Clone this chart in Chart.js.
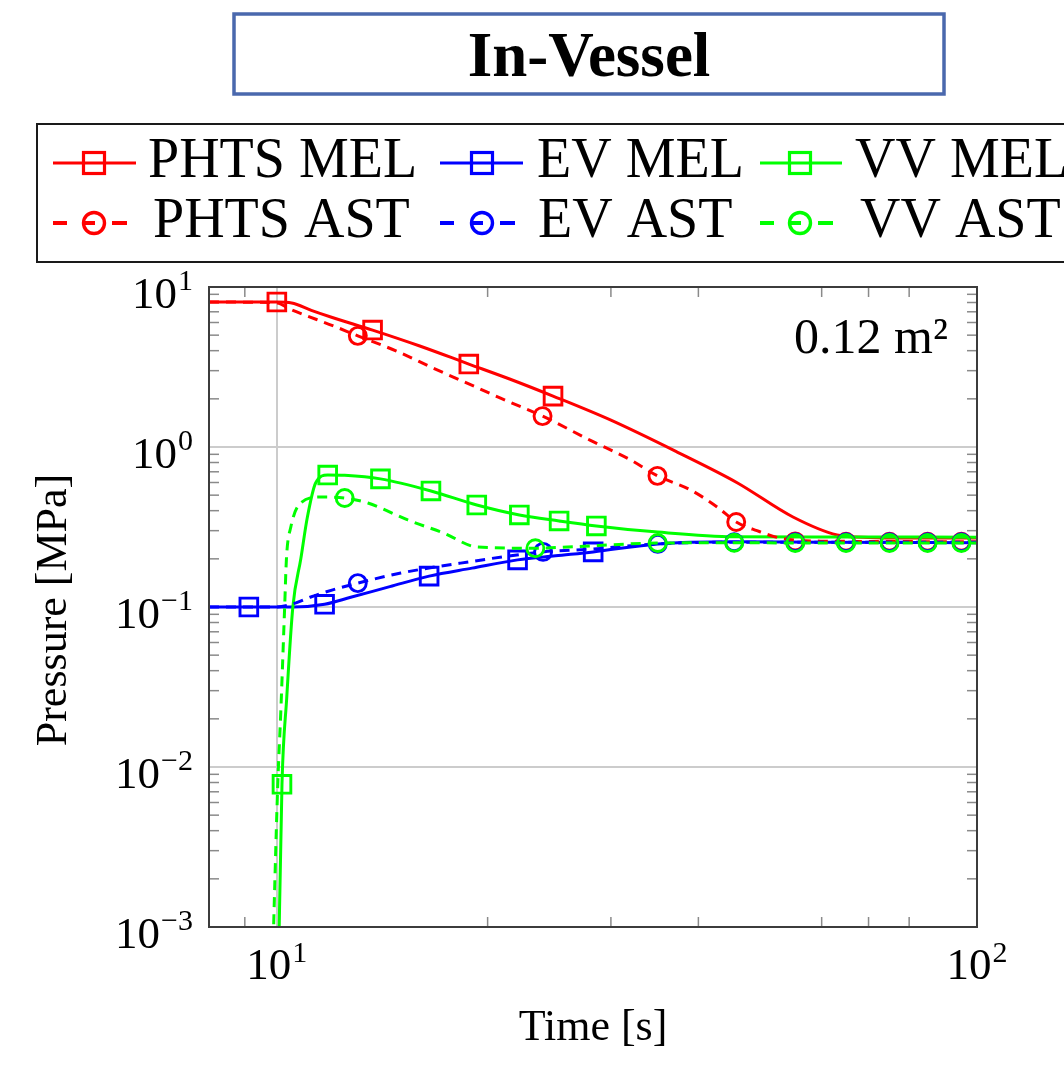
<!DOCTYPE html>
<html>
<head>
<meta charset="utf-8">
<script src="https://cdn.jsdelivr.net/npm/chart.js@4.4.0/dist/chart.umd.min.js"></script>
<style>
html,body{margin:0;padding:0;background:#fff;}
#wrap{width:1064px;height:1065px;position:relative;}
</style>
</head>
<body>
<div id="wrap"><canvas id="c"></canvas></div>
<script>
// ---------- texts ----------
const chartTitle = 'In-Vessel';
const xAxisTitle = 'Time [s]';
const yAxisTitle = 'Pressure [MPa]';
const annotationText = '0.12 m²';
const seriesNames = ['PHTS MEL', 'EV MEL', 'VV MEL', 'PHTS AST', 'EV AST', 'VV AST'];

// ---------- axes ----------
const xMin = 8, xMax = 100, yMin = 1e-3, yMax = 10;
const xMajorTicks = [10, 100];
const xMinorTicks = [9, 20, 30, 40, 60, 70, 80];
const xGridValues = [10];
const yMajorTicks = [1e-3, 1e-2, 1e-1, 1, 10];
const yMinorTicks = [2e-3,3e-3,4e-3,5e-3,6e-3,7e-3,8e-3,9e-3,
                     2e-2,3e-2,4e-2,5e-2,6e-2,7e-2,8e-2,9e-2,
                     0.2,0.3,0.4,0.5,0.6,0.7,0.8,0.9,
                     2,3,4,5,6,7,8,9];
const xTickLabels = [['10','1'], ['10','2']];
const yTickLabels = [['10','\u22123'], ['10','\u22122'], ['10','\u22121'], ['10','0'], ['10','1']];

// ---------- series: PHTS MEL ----------
const phtsMelTime = [8, 9, 10, 10.5, 11.2, 12, 13.7, 16, 18.8, 21.5, 24.8, 30, 37.3, 45.5, 54.6, 63.1, 70, 80, 100];
const phtsMelP    = [8.06, 8.06, 8.06, 7.95, 7.15, 6.45, 5.38, 4.28, 3.30, 2.66, 2.08, 1.47, 0.93, 0.596, 0.365, 0.282, 0.272, 0.27, 0.27];
const phtsMelMarkTime = [10, 13.7, 18.8, 24.8];
const phtsMelMarkP    = [8.06, 5.38, 3.30, 2.08];

// ---------- series: EV MEL ----------
const evMelTime = [8, 9.12, 10.57, 11.7, 12.75, 14.5, 16.5, 19, 22.07, 25, 28.3, 35, 45, 60, 100];
const evMelP    = [0.1, 0.1, 0.1, 0.104, 0.115, 0.134, 0.156, 0.175, 0.197, 0.209, 0.221, 0.248, 0.256, 0.254, 0.252];
const evMelMarkTime = [9.12, 11.7, 16.5, 22.07, 28.3];
const evMelMarkP    = [0.1, 0.104, 0.156, 0.197, 0.221];

// ---------- series: VV MEL ----------
const vvMelTime = [10.05, 10.17, 10.33, 10.54, 10.82, 11.05, 11.36, 11.82, 12.5, 14.06, 16.6, 19.3, 22.2, 25.3, 28.6, 35, 45, 60, 100];
const vvMelP    = [0.0005, 0.0078, 0.027, 0.1, 0.2, 0.36, 0.596, 0.668, 0.665, 0.632, 0.531, 0.434, 0.376, 0.345, 0.321, 0.294, 0.275, 0.274, 0.273];
const vvMelMarkTime = [10.17, 11.82, 14.06, 16.6, 19.3, 22.2, 25.3, 28.6];
const vvMelMarkP    = [0.0078, 0.668, 0.632, 0.531, 0.434, 0.376, 0.345, 0.321];

// ---------- series: PHTS AST ----------
const phtsAstTime = [8, 9, 10, 10.5, 12.06, 13.05, 14.88, 16.75, 18.73, 20.87, 23.96, 28.05, 32, 34.96, 38.96, 42.6, 45.3, 48.5, 52.3, 60, 100];
const phtsAstP    = [8.06, 8.04, 7.95, 7.2, 5.7, 4.95, 3.95, 3.1, 2.5, 2.02, 1.56, 1.10, 0.83, 0.66, 0.54, 0.42, 0.34, 0.30, 0.27, 0.258, 0.256];
const phtsAstMarkTime = [13.05, 23.96, 34.96, 45.3, 55, 65, 75, 85, 95];
const phtsAstMarkP    = [4.95, 1.56, 0.66, 0.34, 0.257, 0.256, 0.256, 0.256, 0.256];

// ---------- series: EV AST ----------
const evAstTime = [8, 10, 10.57, 11.18, 12.02, 13.05, 15.03, 18.3, 24, 28.05, 35, 45, 60, 100];
const evAstP    = [0.1, 0.1, 0.105, 0.1155, 0.128, 0.141, 0.163, 0.188, 0.221, 0.230, 0.248, 0.254, 0.254, 0.254];
const evAstMarkTime = [13.05, 24, 35, 45, 55, 65, 75, 85, 95];
const evAstMarkP    = [0.141, 0.221, 0.248, 0.254, 0.254, 0.254, 0.254, 0.254, 0.254];

// ---------- series: VV AST ----------
const vvAstTime = [9.85, 10.03, 10.13, 10.26, 10.32, 10.47, 10.82, 11.56, 12.5, 13.49, 15.38, 17.3, 19.35, 23.4, 26.0, 35, 45, 60, 100];
const vvAstP    = [0.0005, 0.0078, 0.022, 0.1, 0.2, 0.316, 0.447, 0.487, 0.48, 0.447, 0.35, 0.29, 0.237, 0.233, 0.237, 0.251, 0.252, 0.251, 0.251];
const vvAstMarkTime = [12.5, 23.4, 35, 45, 55, 65, 75, 85, 95];
const vvAstMarkP    = [0.48, 0.233, 0.251, 0.252, 0.251, 0.251, 0.251, 0.251, 0.251];

// ---------- styling ----------
const seriesColors = ['#ff0000', '#0000ff', '#00ff00'];
const SERIF = '"Liberation Serif", "DejaVu Serif", serif';

const zip = (t, p) => t.map((v, i) => ({x: v, y: p[i]}));

const seriesDefs = [
  {curveT: phtsMelTime, curveP: phtsMelP, markT: phtsMelMarkTime, markP: phtsMelMarkP, color: seriesColors[0], dashed: false},
  {curveT: evMelTime,   curveP: evMelP,   markT: evMelMarkTime,   markP: evMelMarkP,   color: seriesColors[1], dashed: false},
  {curveT: vvMelTime,   curveP: vvMelP,   markT: vvMelMarkTime,   markP: vvMelMarkP,   color: seriesColors[2], dashed: false},
  {curveT: phtsAstTime, curveP: phtsAstP, markT: phtsAstMarkTime, markP: phtsAstMarkP, color: seriesColors[0], dashed: true},
  {curveT: evAstTime,   curveP: evAstP,   markT: evAstMarkTime,   markP: evAstMarkP,   color: seriesColors[1], dashed: true},
  {curveT: vvAstTime,   curveP: vvAstP,   markT: vvAstMarkTime,   markP: vvAstMarkP,   color: seriesColors[2], dashed: true},
];

const datasets = [];
seriesDefs.forEach((s, k) => {
  datasets.push({
    label: seriesNames[k],
    data: zip(s.curveT, s.curveP),
    borderColor: s.color,
    borderWidth: 3,
    borderDash: s.dashed ? [10, 7] : [],
    pointRadius: 0,
    fill: false,
    cubicInterpolationMode: 'monotone',
    order: 100 - 2 * k
  });
  datasets.push({
    label: seriesNames[k] + ' marks',
    data: zip(s.markT, s.markP),
    showLine: false,
    pointStyle: s.dashed ? 'circle' : 'rect',
    pointRadius: s.dashed ? 8.5 : 12.5,
    pointBorderWidth: 2.9,
    pointBorderColor: s.color,
    pointBackgroundColor: 'rgba(0,0,0,0)',
    order: 100 - 2 * k - 1
  });
});

function line(ctx, x0, y0, x1, y1) { ctx.beginPath(); ctx.moveTo(x0, y0); ctx.lineTo(x1, y1); ctx.stroke(); }

const decoPlugin = {
  id: 'deco',
  beforeDatasetsDraw(chart) {
    const {ctx, chartArea: a, scales: {x, y}} = chart;
    ctx.save();
    ctx.strokeStyle = '#8a8a8a';
    ctx.lineWidth = 1.5;
    yMinorTicks.forEach(v => {
      const py = y.getPixelForValue(v);
      line(ctx, a.left, py, a.left + 10, py);
      line(ctx, a.right - 10, py, a.right, py);
    });
    xMinorTicks.forEach(v => {
      const px = x.getPixelForValue(v);
      line(ctx, px, a.top, px, a.top + 10);
      line(ctx, px, a.bottom - 10, px, a.bottom);
    });
    ctx.restore();
  },
  afterDatasetsDraw(chart) {
    const {ctx, chartArea: a} = chart;
    ctx.save();
    ctx.strokeStyle = '#3c3c3c';
    ctx.lineWidth = 2;
    ctx.strokeRect(a.left, a.top, a.right - a.left, a.bottom - a.top);
    ctx.restore();
  },
  afterDraw(chart) {
    const {ctx, chartArea: a, scales: {x, y}} = chart;
    ctx.save();
    ctx.fillStyle = '#000';
    // ---- tick labels ----
    const baseFont = '45px ' + SERIF, supFont = '30px ' + SERIF;
    ctx.textBaseline = 'alphabetic';
    // y labels (right aligned)
    yMajorTicks.forEach((v, i) => {
      const py = y.getPixelForValue(v);
      const [b, s] = yTickLabels[i];
      ctx.font = supFont; const sw = ctx.measureText(s).width;
      ctx.textAlign = 'right';
      ctx.fillText(s, 193, py + 3);
      ctx.font = baseFont;
      ctx.fillText(b, 193 - sw - 1, py + 21);
    });
    // x labels (centered)
    xMajorTicks.forEach((v, i) => {
      const px = x.getPixelForValue(v);
      const [b, s] = xTickLabels[i];
      ctx.font = baseFont; const bw = ctx.measureText(b).width;
      ctx.font = supFont; const sw = ctx.measureText(s).width;
      const x0 = px - (bw + sw + 1) / 2;
      ctx.textAlign = 'left';
      ctx.font = baseFont; ctx.fillText(b, x0, 979);
      ctx.font = supFont; ctx.fillText(s, x0 + bw + 1, 962);
    });
    // ---- axis titles ----
    ctx.font = '44px ' + SERIF;
    ctx.textAlign = 'center';
    ctx.fillText(xAxisTitle, (a.left + a.right) / 2, 1040);
    ctx.save();
    ctx.translate(66, (a.top + a.bottom) / 2 + 3);
    ctx.rotate(-Math.PI / 2);
    ctx.fillText(yAxisTitle, 0, 0);
    ctx.restore();
    // ---- annotation ----
    ctx.font = '50px ' + SERIF;
    ctx.textAlign = 'right';
    ctx.fillText(annotationText, 948, 353);

    // ---- title box ----
    ctx.fillStyle = '#fff';
    ctx.fillRect(234, 14, 710, 80);
    ctx.strokeStyle = '#4a68ad';
    ctx.lineWidth = 3.5;
    ctx.strokeRect(234, 14, 710, 80);
    ctx.fillStyle = '#000';
    ctx.font = 'bold 63px ' + SERIF;
    ctx.textAlign = 'center';
    ctx.fillText(chartTitle, 589, 76);

    // ---- legend ----
    ctx.strokeStyle = '#1a1a1a';
    ctx.lineWidth = 2;
    ctx.strokeRect(37, 124, 1080, 138);
    const cols = [
      {s0: 53, s1: 136, m: 94, t1: 148, t2: 153},
      {s0: 440, s1: 523, m: 482, t1: 537, t2: 538},
      {s0: 760, s1: 842, m: 800, t1: 855, t2: 860}
    ];
    ctx.font = '56px ' + SERIF;
    ctx.textAlign = 'left';
    cols.forEach((c, i) => {
      const col = seriesColors[i];
      // row 1: MEL (solid + square)
      const y1 = 163;
      ctx.strokeStyle = col; ctx.lineWidth = 3;
      line(ctx, c.s0, y1, c.s1, y1);
      ctx.lineWidth = 3.2;
      ctx.strokeRect(c.m - 10.5, y1 - 10.5, 21, 21);
      ctx.fillStyle = '#000';
      ctx.fillText(seriesNames[i], c.t1, 177);
      // row 2: AST (dashed + circle)
      const y2 = 223;
      ctx.strokeStyle = col; ctx.lineWidth = 4;
      line(ctx, c.s0, y2, c.s0 + 14, y2);
      line(ctx, c.m - 9, y2, c.m + 1, y2);
      line(ctx, c.m + 18, y2, c.m + 33, y2);
      ctx.lineWidth = 3.4;
      ctx.beginPath(); ctx.arc(c.m, y2, 10.5, 0, Math.PI * 2); ctx.stroke();
      ctx.fillStyle = '#000';
      ctx.fillText(seriesNames[3 + i], c.t2, 237);
    });
    ctx.restore();
  }
};

new Chart(document.getElementById('c'), {
  type: 'line',
  data: {datasets},
  options: {
    responsive: true,
    maintainAspectRatio: false,
    animation: false,
    events: [],
    layout: {padding: {left: 209, top: 287, right: 87, bottom: 138}},
    plugins: {legend: {display: false}, tooltip: {enabled: false}, title: {display: false}},
    scales: {
      x: {
        type: 'logarithmic', min: xMin, max: xMax,
        afterBuildTicks: s => { s.ticks = xMajorTicks.map(v => ({value: v})); },
        ticks: {display: false},
        border: {display: false},
        grid: {drawTicks: false, lineWidth: 2,
               color: c => (c.tick && xGridValues.includes(c.tick.value)) ? '#cccccc' : 'rgba(0,0,0,0)'}
      },
      y: {
        type: 'logarithmic', min: yMin, max: yMax,
        afterBuildTicks: s => { s.ticks = yMajorTicks.map(v => ({value: v})); },
        ticks: {display: false},
        border: {display: false},
        grid: {drawTicks: false, lineWidth: 2, color: '#cccccc'}
      }
    }
  },
  plugins: [decoPlugin]
});
</script>
</body>
</html>
